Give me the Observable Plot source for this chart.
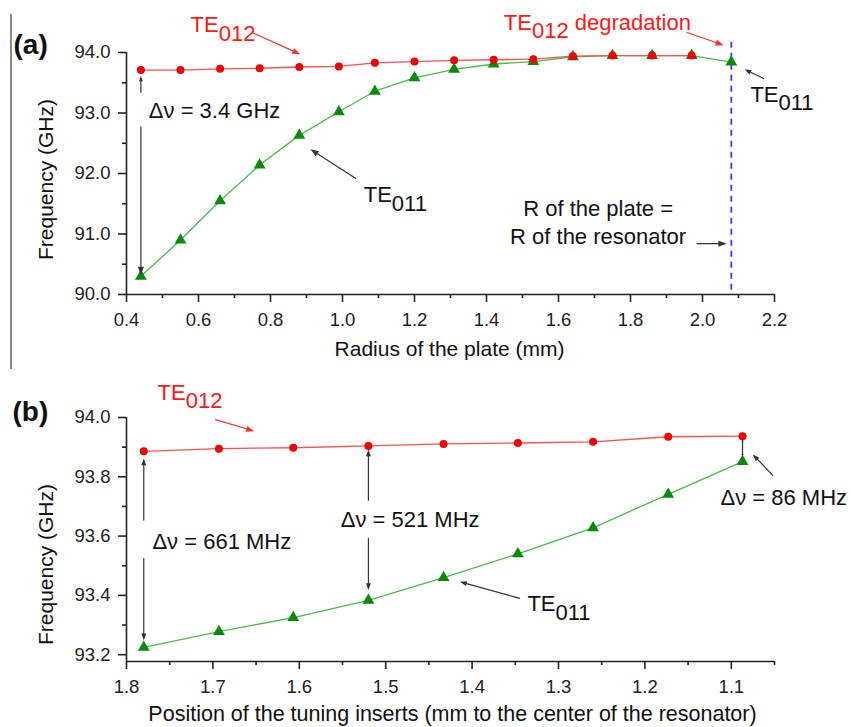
<!DOCTYPE html>
<html><head><meta charset="utf-8">
<script src="https://cdn.jsdelivr.net/npm/d3@7"></script>
<script src="https://cdn.jsdelivr.net/npm/@observablehq/plot@0.6"></script>
<style>
body{margin:0;background:#fff;font-family:"Liberation Sans",Arial,sans-serif;}
#wrap{position:relative;width:851px;height:727px;overflow:hidden;background:#fff;}
#a{position:absolute;left:0;top:0;}
#b{position:absolute;left:0;top:364px;}
#edge{position:absolute;left:10px;top:14px;width:2px;height:355px;background:#8a8a8a;}
</style></head><body>
<div id="wrap"><div id="edge"></div><div id="a"></div><div id="b"></div></div>
<script>
// ---------- Panel (a) data ----------
const radius = [0.44,0.55,0.66,0.77,0.88,0.99,1.09,1.20,1.31,1.42,1.53,1.64,1.75,1.86,1.97,2.08];
const te012A = [93.71,93.71,93.73,93.74,93.76,93.77,93.83,93.85,93.87,93.88,93.89,93.94,93.95,93.95,93.95];
const te011A = [90.30,90.90,91.55,92.14,92.63,93.02,93.36,93.58,93.72,93.81,93.85,93.93,93.95,93.95,93.95,93.84];
const xTicksA = [0.4,0.6,0.8,1.0,1.2,1.4,1.6,1.8,2.0,2.2];
const xLabelsA = ["0.4","0.6","0.8","1.0","1.2","1.4","1.6","1.8","2.0","2.2"];
const xMinorA = [0.5,0.7,0.9,1.1,1.3,1.5,1.7,1.9,2.1];
const yTicksA = [90,91,92,93,94];
const yLabelsA = ["90.0","91.0","92.0","93.0","94.0"];
const yMinorA = [90.5,91.5,92.5,93.5];
const plateEdge = [2.08];

// ---------- Panel (b) data ----------
const position = [1.78,1.693,1.607,1.52,1.433,1.347,1.26,1.173,1.087];
const te012B = [93.886,93.895,93.898,93.904,93.911,93.914,93.918,93.935,93.937];
const te011B = [93.225,93.278,93.325,93.383,93.46,93.54,93.628,93.741,93.851];
const xTicksB = [1.8,1.7,1.6,1.5,1.4,1.3,1.2,1.1];
const xLabelsB = ["1.8","1.7","1.6","1.5","1.4","1.3","1.2","1.1"];
const xMinorB = [1.75,1.65,1.55,1.45,1.35,1.25,1.15,1.05];
const yTicksB = [93.2,93.4,93.6,93.8,94.0];
const yLabelsB = ["93.2","93.4","93.6","93.8","94.0"];
const yMinorB = [93.3,93.5,93.7,93.9];

// ---------- annotations (data coordinates) ----------
const redTextsA = [
  {x:0.578, y:94.451, t:"TE_{012}"},
  {x:1.448, y:94.49, t:"TE_{012} degradation"}
];
const blackTextsA = [
  {x:2.133, y:93.306, t:"TE_{011}"},
  {x:1.059, y:91.641, t:"TE_{011}"},
  {x:0.462, y:93.036, t:"Δν = 3.4 GHz"}
];
const centerTextsA = [
  {x:1.71, y:91.421, t:"R of the plate ="},
  {x:1.71, y:90.954, t:"R of the resonator"}
];
const redArrowsA = [
  {x1:0.753, y1:94.32, x2:0.883, y2:93.97},
  {x1:1.957, y1:94.33, x2:2.059, y2:94.12}
];
const blackArrowsA = [
  {x1:2.170, y1:93.57, x2:2.117, y2:93.72},
  {x1:0.44, y1:93.34, x2:0.44, y2:93.61},
  {x1:0.44, y1:92.77, x2:0.44, y2:90.32},
  {x1:1.036, y1:91.92, x2:0.911, y2:92.40},
  {x1:1.985, y1:90.84, x2:2.067, y2:90.84}
];
const redTextsB = [
  {x:1.764, y:94.083, t:"TE_{012}"}
];
const blackTextsB = [
  {x:1.770, y:93.580, t:"Δν = 661 MHz"},
  {x:1.552, y:93.653, t:"Δν = 521 MHz"},
  {x:1.1125, y:93.730, t:"Δν = 86 MHz"},
  {x:1.336, y:93.370, t:"TE_{011}"}
];
const redArrowsB = [
  {x1:1.697, y1:93.993, x2:1.652, y2:93.954}
];
const blackArrowsB = [
  {x1:1.78, y1:93.654, x2:1.78, y2:93.862},
  {x1:1.78, y1:93.524, x2:1.78, y2:93.249},
  {x1:1.52, y1:93.721, x2:1.52, y2:93.892},
  {x1:1.52, y1:93.592, x2:1.52, y2:93.418},
  {x1:1.087, y1:93.898, x2:1.087, y2:93.929},
  {x1:1.087, y1:93.898, x2:1.087, y2:93.867},
  {x1:1.052, y1:93.805, x2:1.075, y2:93.875},
  {x1:1.345, y1:93.390, x2:1.414, y2:93.446}
];

const FONT = '"Liberation Sans", Arial, Helvetica, sans-serif';
const AX = "#222";
const RED_LINE = "#ff5050", RED_DOT = "#f00000";
const GREEN_LINE = "#4cb84c", GREEN_DOT = "#0a8a0a";
const ANN = 22;

function subscripts(svg){
  const ns = "http://www.w3.org/2000/svg";
  svg.querySelectorAll("text").forEach(t => {
    const s = t.textContent;
    const m = s.match(/^(.*?)_\{(.*?)\}(.*)$/);
    if (!m) return;
    while (t.firstChild) t.removeChild(t.firstChild);
    t.appendChild(document.createTextNode(m[1]));
    const sub = document.createElementNS(ns, "tspan");
    sub.setAttribute("dy", "0.38em"); sub.textContent = m[2]; t.appendChild(sub);
    if (m[3]) {
      const r = document.createElementNS(ns, "tspan");
      r.setAttribute("dy", "-0.38em"); r.textContent = m[3]; t.appendChild(r);
    }
  });
}

// turn Plot's open arrowheads into filled ones
function fillHeads(svg){
  const ns = "http://www.w3.org/2000/svg";
  svg.querySelectorAll('g[aria-label="arrow"]').forEach(g => {
    const col = g.getAttribute("stroke");
    Array.from(g.querySelectorAll("path")).forEach(p => {
      const n = (p.getAttribute("d").match(/-?\d*\.?\d+(e-?\d+)?/g) || []).map(Number);
      if (n.length !== 10) return;
      const [x1,y1,x2,y2,h1x,h1y,,,h2x,h2y] = n;
      const mx = (h1x + h2x) / 2, my = (h1y + h2y) / 2;
      p.setAttribute("d", `M${x1},${y1}L${mx},${my}`);
      const head = document.createElementNS(ns, "path");
      head.setAttribute("d", `M${h1x},${h1y}L${x2},${y2}L${h2x},${h2y}Z`);
      head.setAttribute("fill", p.getAttribute("stroke") || col || "#111");
      head.setAttribute("stroke", "none");
      p.parentNode.appendChild(head);
    });
  });
}

function axes(xMaj, xLab, xMin, yMaj, yLab, yMin, xd, yd){
  return [
    Plot.ruleY([yd[0]], {x1: xd[0], x2: xd[1], stroke: AX, strokeWidth: 1.6}),
    Plot.ruleX([xd[0]], {y1: yd[0], y2: yd[1], stroke: AX, strokeWidth: 1.6}),
    Plot.axisX({ticks: xMaj, tickSize: 8, tickPadding: 10, tickFormat: d => xLab[xMaj.indexOf(d)], fontSize: 18.5, stroke: AX, fill: AX, strokeWidth: 1.6, label: null}),
    Plot.axisX({ticks: xMin, tickSize: 4, tickFormat: () => "", stroke: AX, strokeWidth: 1.6, label: null}),
    Plot.axisY({ticks: yMaj, tickSize: 8, tickPadding: 8, tickFormat: d => yLab[yMaj.indexOf(d)], fontSize: 18.5, stroke: AX, fill: AX, strokeWidth: 1.6, label: null}),
    Plot.axisY({ticks: yMin, tickSize: 4, tickFormat: () => "", stroke: AX, strokeWidth: 1.6, label: null})
  ];
}

const arrowOpts = {x1: "x1", y1: "y1", x2: "x2", y2: "y2", strokeWidth: 1.2, headLength: 11, headAngle: 40};

// ---------- Panel (a) ----------
const rowsA012 = te012A.map((v, i) => ({x: radius[i], y: v}));
const rowsA011 = te011A.map((v, i) => ({x: radius[i], y: v}));
const plotA = Plot.plot({
  width: 851, height: 364,
  marginLeft: 126, marginRight: 77, marginTop: 52, marginBottom: 70,
  x: {domain: [0.4, 2.2], label: null},
  y: {domain: [90, 94], label: null},
  style: {fontFamily: FONT, fontSize: "18px", color: AX, background: "transparent", overflow: "visible"},
  marks: [
    Plot.ruleX(plateEdge, {y1: 90.07, y2: 94.25, stroke: "#3a3aff", strokeWidth: 1.8, strokeDasharray: "6,5"}),
    ...axes(xTicksA, xLabelsA, xMinorA, yTicksA, yLabelsA, yMinorA, [0.4, 2.2], [90, 94]),
    Plot.line(rowsA011, {x: "x", y: "y", stroke: GREEN_LINE, strokeWidth: 1.3}),
    Plot.line(rowsA012, {x: "x", y: "y", stroke: RED_LINE, strokeWidth: 1.3}),
    Plot.dot(rowsA011, {x: "x", y: "y", symbol: "triangle", r: 4.4, fill: GREEN_DOT, stroke: "none"}),
    Plot.dot(rowsA012, {x: "x", y: "y", r: 4, fill: RED_DOT, stroke: "none"}),
    Plot.arrow(redArrowsA, {...arrowOpts, stroke: "#ff3030"}),
    Plot.arrow(blackArrowsA, {...arrowOpts, stroke: "#333"}),
    Plot.text(redTextsA, {x: "x", y: "y", text: "t", fill: "#ff1a1a", textAnchor: "start", lineAnchor: "middle", fontSize: ANN}),
    Plot.text(blackTextsA, {x: "x", y: "y", text: "t", fill: "#111", textAnchor: "start", lineAnchor: "middle", fontSize: ANN}),
    Plot.text(centerTextsA, {x: "x", y: "y", text: "t", fill: "#111", textAnchor: "middle", lineAnchor: "middle", fontSize: ANN}),
    Plot.text(["Frequency (GHz)"], {frameAnchor: "left", text: d => d, rotate: -90, textAnchor: "middle", lineAnchor: "middle", dx: -80, dy: 6, fontSize: 21, fill: "#111"}),
    Plot.text(["Radius of the plate (mm)"], {frameAnchor: "bottom", text: d => d, textAnchor: "middle", lineAnchor: "middle", dx: -1, dy: 55, fontSize: 21, fill: "#111"}),
    Plot.text(["(a)"], {frameAnchor: "top-left", text: d => d, textAnchor: "start", lineAnchor: "middle", dx: -113, dy: -7.6, fontSize: 28, fontWeight: "bold", fill: "#111"})
  ]
});
subscripts(plotA);
fillHeads(plotA);
document.getElementById("a").appendChild(plotA);

// ---------- Panel (b) ----------
const rowsB012 = te012B.map((v, i) => ({x: position[i], y: v}));
const rowsB011 = te011B.map((v, i) => ({x: position[i], y: v}));
const plotB = Plot.plot({
  width: 851, height: 363,
  marginLeft: 126, marginRight: 77, marginTop: 53, marginBottom: 66,
  x: {domain: [1.8, 1.05], label: null},
  y: {domain: [93.177, 94.0], label: null},
  style: {fontFamily: FONT, fontSize: "18px", color: AX, background: "transparent", overflow: "visible"},
  marks: [
    ...axes(xTicksB, xLabelsB, xMinorB, yTicksB, yLabelsB, yMinorB, [1.8, 1.05], [93.177, 94.0]),
    Plot.line(rowsB011, {x: "x", y: "y", stroke: GREEN_LINE, strokeWidth: 1.3}),
    Plot.line(rowsB012, {x: "x", y: "y", stroke: RED_LINE, strokeWidth: 1.3}),
    Plot.dot(rowsB011, {x: "x", y: "y", symbol: "triangle", r: 4.4, fill: GREEN_DOT, stroke: "none"}),
    Plot.dot(rowsB012, {x: "x", y: "y", r: 4, fill: RED_DOT, stroke: "none"}),
    Plot.arrow(redArrowsB, {...arrowOpts, stroke: "#ff3030"}),
    Plot.arrow(blackArrowsB, {...arrowOpts, headLength: 9, stroke: "#333"}),
    Plot.text(redTextsB, {x: "x", y: "y", text: "t", fill: "#ff1a1a", textAnchor: "start", lineAnchor: "middle", fontSize: ANN}),
    Plot.text(blackTextsB, {x: "x", y: "y", text: "t", fill: "#111", textAnchor: "start", lineAnchor: "middle", fontSize: ANN}),
    Plot.text(["Frequency (GHz)"], {frameAnchor: "left", text: d => d, rotate: -90, textAnchor: "middle", lineAnchor: "middle", dx: -80, dy: 25, fontSize: 21, fill: "#111"}),
    Plot.text(["Position of the tuning inserts (mm to the center of the resonator)"], {frameAnchor: "bottom", text: d => d, textAnchor: "middle", lineAnchor: "middle", dx: 2, dy: 53, fontSize: 21.5, fill: "#111"}),
    Plot.text(["(b)"], {frameAnchor: "top-left", text: d => d, textAnchor: "start", lineAnchor: "middle", dx: -114, dy: -5.2, fontSize: 28, fontWeight: "bold", fill: "#111"})
  ]
});
subscripts(plotB);
fillHeads(plotB);
document.getElementById("b").appendChild(plotB);
</script></body></html>
